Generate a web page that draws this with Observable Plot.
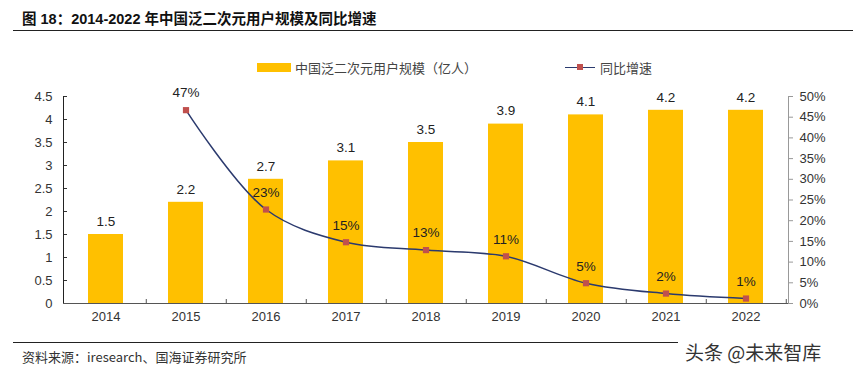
<!DOCTYPE html>
<html><head><meta charset="utf-8">
<script src="https://cdn.jsdelivr.net/npm/d3@7"></script>
<script src="https://cdn.jsdelivr.net/npm/@observablehq/plot@0.6"></script>
<style>
body{margin:0;background:#fff;font-family:"Liberation Sans","Noto Sans CJK SC",sans-serif;}
#wrap{position:relative;width:853px;height:376px;overflow:hidden;background:#fff;}
#chart{position:absolute;left:0;top:0;}
.abs{position:absolute;white-space:nowrap;}
.title{left:22px;top:7px;font-size:14.5px;font-weight:bold;color:#111;}
.hr1{left:13px;width:840px;top:30px;height:1px;background:#222;}
.hr2{left:13px;width:665px;top:342px;height:1px;background:#222;}
.lg{font-size:13px;color:#444;font-family:"Noto Sans CJK SC",sans-serif;}
.src{left:22px;top:347px;font-size:13px;color:#333;font-family:"Noto Sans CJK SC",sans-serif;}
.wm{left:685px;top:338px;font-size:19px;color:#333;font-family:"Noto Sans CJK SC",sans-serif;}
</style>
</head><body>
<div id="wrap">
<div id="chart"></div>
<div class="abs title">图 18：2014-2022 年中国泛二次元用户规模及同比增速</div>
<div class="abs hr1"></div>
<div class="abs" style="left:257px;top:63px;width:34px;height:9px;background:#FFC000"></div>
<div class="abs lg" style="left:295px;top:58px">中国泛二次元用户规模（亿人）</div>
<div class="abs" style="left:565px;top:66.5px;width:30px;height:1.5px;background:#2B3A6E"></div>
<div class="abs" style="left:577px;top:64px;width:6px;height:6px;background:#C0504D"></div>
<div class="abs lg" style="left:600px;top:58px">同比增速</div>
<div class="abs hr2"></div>
<div class="abs src">资料来源：iresearch、国海证券研究所</div>
<div class="abs wm">头条 @未来智库</div>
</div>
<script>
const years = ["2014","2015","2016","2017","2018","2019","2020","2021","2022"];
const users = [1.5, 2.2, 2.7, 3.1, 3.5, 3.9, 4.1, 4.2, 4.2];
const growthYears = ["2015","2016","2017","2018","2019","2020","2021","2022"];
const growth = [46.7, 22.7, 14.8, 12.9, 11.4, 4.9, 2.4, 1.2];
const growthLabels = ["47%","23%","15%","13%","11%","5%","2%","1%"];
const leftTicks = [0,0.5,1,1.5,2,2.5,3,3.5,4,4.5];
const rightTicks = [0,5,10,15,20,25,30,35,40,45,50];

const yMax = 4.5, rMax = 50;
const toY = p => p * yMax / rMax;
const userData = years.map((y, i) => ({year: y, v: users[i]}));
const growthData = growthYears.map((y, i) => ({year: y, v: toY(growth[i]), label: growthLabels[i]}));

const W = 853, H = 376, mL = 63, mR = 65;
const step = (W - mL - mR) / years.length;

const chart = Plot.plot({
  width: W, height: H,
  marginTop: 96, marginBottom: 73, marginLeft: mL, marginRight: mR,
  style: {fontFamily: '"Liberation Sans", Arial, sans-serif', fontSize: "13px", color: "#333", background: "transparent"},
  x: {type: "band", domain: years, paddingInner: 0.565, paddingOuter: 0.2825, align: 0.5},
  y: {domain: [0, yMax]},
  marks: [
    Plot.barY(userData, {x: "year", y: "v", fill: "#FFC000"}),
    Plot.axisY({anchor: "left", ticks: leftTicks, tickSize: 0, tickPadding: 11, tickFormat: d => String(+d.toFixed(1)), fontSize: 13, fill: "#333", label: null}),
    Plot.axisY({anchor: "left", ticks: leftTicks, tickSize: -4, tickFormat: () => "", stroke: "#333", label: null}),
    Plot.axisY({anchor: "right", ticks: rightTicks.map(toY), tickSize: 4, tickPadding: 7, tickFormat: d => Math.round(d * rMax / yMax) + "%", stroke: "#999", fontSize: 13, fill: "#333", label: null}),
    Plot.frame({anchor: "left", stroke: "#222"}),
    Plot.frame({anchor: "right", stroke: "#999"}),
    Plot.axisX({tickSize: 0, tickPadding: 8, fontSize: 13, fill: "#333", label: null}),
    Plot.axisX({ticks: years, tickSize: -4, tickFormat: () => "", dx: step / 2, stroke: "#555", label: null}),
    Plot.ruleY([0], {stroke: "#555", strokeWidth: 1.2}),
    Plot.text(userData, {x: "year", y: "v", text: d => d.v.toFixed(1), dy: -13, fontSize: 13.5, fill: "#222"}),
    Plot.line(growthData, {x: "year", y: "v", stroke: "#2B3A6E", strokeWidth: 1.5, curve: "catmull-rom"}),
    Plot.dot(growthData, {x: "year", y: "v", symbol: "square", r: 3.5, fill: "#C0504D", stroke: "none"}),
    Plot.text(growthData, {x: "year", y: "v", text: "label", dy: -17, fontSize: 13.5, fill: "#222"})
  ]
});
document.getElementById("chart").appendChild(chart);
</script>
</body></html>
